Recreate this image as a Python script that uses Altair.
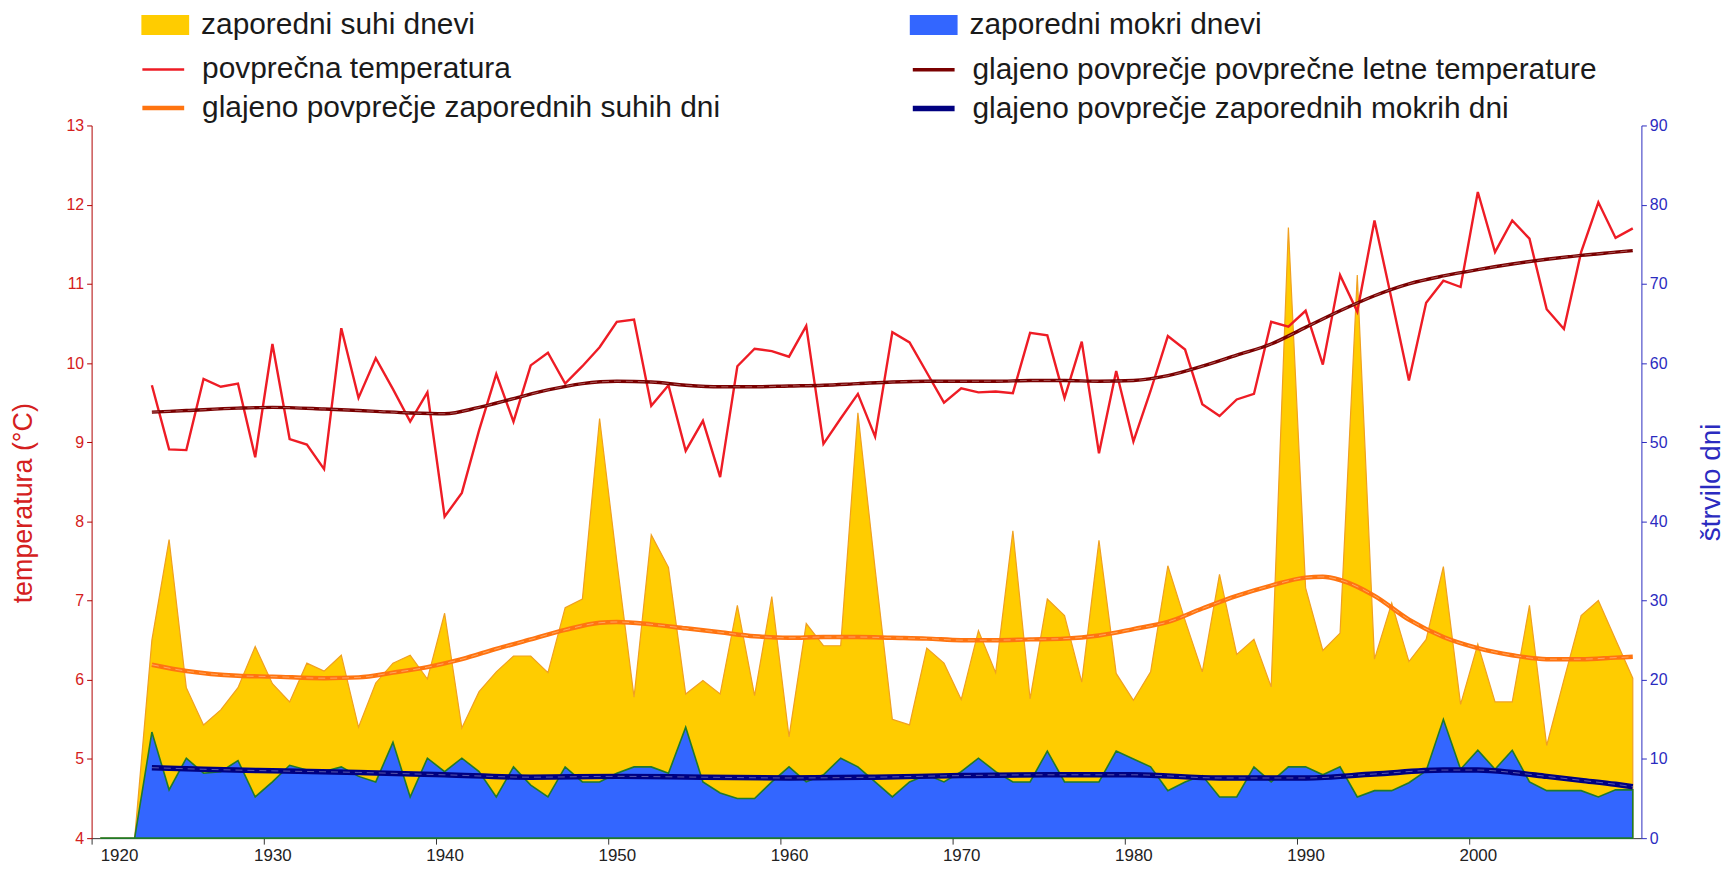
import altair as alt
import pandas as pd

# ---------------- data ----------------
years = list(range(1920, 2010))

temperature = [None, None, None,
    9.72, 8.91, 8.90, 9.80, 9.70, 9.74, 8.81, 10.24, 9.04, 8.97,      # 1923-1932
    8.66, 10.44, 9.56, 10.06, 9.67, 9.26, 9.63, 8.06, 8.36, 9.15,     # 1933-1942
    9.86, 9.26, 9.97, 10.13, 9.74, 9.96, 10.20, 10.52, 10.55, 9.46,   # 1943-1952
    9.72, 8.89, 9.27, 8.56, 9.96, 10.18, 10.15, 10.08, 10.47, 8.98,   # 1953-1962
    9.30, 9.61, 9.07, 10.39, 10.26, 9.88, 9.50, 9.68, 9.63, 9.64,     # 1963-1972
    9.62, 10.38, 10.35, 9.56, 10.27, 8.86, 9.90, 9.01, 9.65, 10.34,   # 1973-1982
    10.17, 9.48, 9.33, 9.54, 9.61, 10.52, 10.46, 10.66, 9.98, 11.11,  # 1983-1992
    10.65, 11.80, 10.80, 9.78, 10.76, 11.04, 10.96, 12.16, 11.40, 11.80,  # 1993-2002
    11.57, 10.68, 10.43, 11.40, 12.03, 11.58, 11.70]                  # 2003-2009

dry_days = [0, 0, 0, 25.0, 37.7, 19.0, 14.3, 16.2, 19.0, 24.2,       # 1920-1929
    19.5, 17.2, 22.1, 21.1, 23.1, 14.0, 19.6, 22.1, 23.1, 20.1,       # 1930-1939
    28.4, 13.9, 18.5, 21.0, 23.0, 23.0, 20.9, 29.1, 30.2, 53.0,       # 1940-1949
    35.0, 17.8, 38.3, 34.2, 18.2, 19.9, 18.2, 29.4, 18.0, 30.5,       # 1950-1959
    12.8, 27.1, 24.3, 24.3, 53.7, 34.0, 15.0, 14.3, 24.0, 22.1,       # 1960-1969
    17.5, 26.2, 20.9, 38.8, 17.6, 30.2, 28.1, 19.7, 37.6, 20.8,       # 1970-1979
    17.4, 21.0, 34.4, 27.5, 21.0, 33.3, 23.2, 25.1, 19.1, 77.1,       # 1980-1989
    31.6, 23.7, 25.9, 71.1, 22.6, 29.7, 22.3, 25.1, 34.3, 16.9,       # 1990-1999
    24.5, 17.2, 17.2, 29.4, 11.7, 20.0, 28.1, 30.0, 25.1, 20.2]       # 2000-2009

wet_days = [0, 0, 0, 13.4, 6.1, 10.1, 8.2, 8.4, 9.8, 5.2,            # 1920-1929
    7.1, 9.2, 8.6, 8.4, 9.0, 7.8, 7.1, 12.1, 5.2, 10.1,               # 1930-1939
    8.4, 10.1, 8.4, 5.2, 9.0, 6.7, 5.2, 9.0, 7.1, 7.1,                # 1940-1949
    8.2, 9.0, 9.0, 8.2, 14.0, 7.1, 5.7, 5.0, 5.0, 7.1,                # 1950-1959
    9.0, 7.1, 8.0, 10.1, 9.0, 7.1, 5.2, 7.1, 8.0, 7.1,                # 1960-1969
    8.4, 10.1, 8.4, 7.1, 7.1, 11.0, 7.1, 7.1, 7.1, 11.0,              # 1970-1979
    10.0, 9.0, 6.0, 7.1, 7.9, 5.2, 5.2, 9.0, 7.1, 9.0,                # 1980-1989
    9.0, 8.0, 9.0, 5.2, 6.0, 6.0, 7.0, 8.5, 15.0, 8.7,                # 1990-1999
    11.1, 8.7, 11.1, 7.1, 6.0, 6.0, 6.0, 5.2, 6.1, 6.1]               # 2000-2009

smooth_temp_years = [1923, 1925, 1928, 1930, 1933, 1936, 1938, 1940, 1942, 1944,
                     1946, 1948, 1950, 1952, 1954, 1956, 1958, 1960, 1962, 1964,
                     1966, 1968, 1970, 1972, 1974, 1976, 1978, 1980, 1982, 1984,
                     1986, 1988, 1990, 1992, 1994, 1996, 1998, 2000, 2002, 2004,
                     2006, 2008, 2009]
smooth_temp = [9.38, 9.40, 9.43, 9.44, 9.42, 9.39, 9.37, 9.36, 9.44, 9.55,
               9.66, 9.74, 9.77, 9.76, 9.72, 9.70, 9.70, 9.71, 9.72, 9.74,
               9.76, 9.77, 9.77, 9.77, 9.78, 9.78, 9.77, 9.78, 9.84, 9.96,
               10.10, 10.24, 10.45, 10.66, 10.85, 11.00, 11.10, 11.18, 11.25, 11.31,
               11.36, 11.40, 11.42]

smooth_dry_years = [1923, 1925, 1928, 1930, 1933, 1935, 1937, 1939, 1941, 1943,
                    1945, 1947, 1949, 1950, 1952, 1954, 1956, 1958, 1960, 1962,
                    1964, 1966, 1968, 1970, 1972, 1974, 1976, 1978, 1980, 1982,
                    1984, 1986, 1988, 1990, 1991, 1992, 1994, 1996, 1998, 2000,
                    2002, 2004, 2006, 2008, 2009]
smooth_dry = [21.9, 21.1, 20.5, 20.4, 20.2, 20.3, 20.9, 21.6, 22.6, 23.9,
              25.1, 26.3, 27.2, 27.3, 27.0, 26.5, 26.0, 25.5, 25.3, 25.4,
              25.4, 25.3, 25.2, 25.0, 25.0, 25.1, 25.2, 25.6, 26.4, 27.3,
              29.0, 30.6, 31.9, 32.9, 33.0, 32.6, 30.6, 27.6, 25.4, 24.0,
              23.1, 22.6, 22.6, 22.8, 22.9]

smooth_wet_years = [1923, 1926, 1930, 1935, 1940, 1945, 1950, 1955, 1960, 1965,
                    1970, 1975, 1980, 1985, 1990, 1994, 1998, 2000, 2002, 2004,
                    2006, 2008, 2009]
smooth_wet = [8.9, 8.7, 8.5, 8.3, 8.0, 7.7, 7.8, 7.7, 7.6, 7.7,
              7.9, 8.0, 8.0, 7.6, 7.6, 8.1, 8.6, 8.6, 8.3, 7.8,
              7.3, 6.8, 6.5]

N_DRY = "zaporedni suhi dnevi"
N_WET = "zaporedni mokri dnevi"
N_T = "povprečna temperatura"
N_ST = "glajeno povprečje povprečne letne temperature"
N_SD = "glajeno povprečje zaporednih suhih dni"
N_SW = "glajeno povprečje zaporednih mokrih dni"

# ---------------- styling ----------------
FONT = "Liberation Sans"
C_DRY, C_WET = "#FFCC00", "#3366FF"
C_DRY_LINE, C_WET_LINE = "#F0A020", "#1F7A2A"
C_T, C_ST, C_SD, C_SW = "#EE1C25", "#7A0000", "#FF7410", "#000080"
C_LEFT, C_RIGHT = "#D42020", "#2B2BC0"

PLOT_W, PLOT_H = 1557, 716
LEG_F = 30
HALF_YEAR_PX = PLOT_W / 90 / 2

df_dry = pd.DataFrame({"year": years, "days": dry_days, "name": N_DRY})
df_wet = pd.DataFrame({"year": years, "days": wet_days, "name": N_WET})
df_t = pd.DataFrame({"year": years, "temp": temperature, "name": N_T}).dropna()
df_st = pd.DataFrame({"year": smooth_temp_years, "temp": smooth_temp, "name": N_ST})
df_sd = pd.DataFrame({"year": smooth_dry_years, "days": smooth_dry, "name": N_SD})
df_sw = pd.DataFrame({"year": smooth_wet_years, "days": smooth_wet, "name": N_SW})

x_enc = alt.X("xm:Q",
              scale=alt.Scale(domain=[1920, 2010], nice=False, zero=False),
              axis=alt.Axis(values=list(range(1920, 2001, 10)), format="d", title=None,
                            grid=False, labelFont=FONT, labelFontSize=17, labelColor="#222",
                            labelOffset=HALF_YEAR_PX,
                            domainColor="#333", tickColor="#333", tickSize=6, labelPadding=3))

y_days = alt.Y("days:Q",
               scale=alt.Scale(domain=[0, 90], nice=False, zero=True),
               axis=alt.Axis(orient="right", values=list(range(0, 91, 10)), title="štrvilo dni",
                             grid=False, labelFont=FONT, labelFontSize=16, labelColor=C_RIGHT,
                             domainColor=C_RIGHT, tickColor=C_RIGHT, tickSize=5, labelPadding=3,
                             titleFont=FONT, titleFontSize=28, titleFontWeight="normal",
                             titleColor=C_RIGHT, titleAngle=270, titleX=70, titleY=358,
                             titleAlign="center", titleBaseline="middle"))

y_temp = alt.Y("temp:Q",
               scale=alt.Scale(domain=[4, 13], nice=False, zero=False),
               axis=alt.Axis(orient="left", values=list(range(4, 14)), title="temperatura (°C)",
                             grid=False, labelFont=FONT, labelFontSize=16, labelColor=C_LEFT,
                             domainColor="#B00000", tickColor="#B00000", tickSize=5, labelPadding=3,
                             titleFont=FONT, titleFontSize=27, titleFontWeight="normal",
                             titleColor=C_LEFT, titleAngle=270, titleX=-68, titleY=379,
                             titleAlign="center", titleBaseline="middle"))

fill_scale = alt.Scale(domain=[N_DRY, N_WET], range=[C_DRY, C_WET])
fill_legend = alt.Legend(title=None, orient="none", legendX=50, legendY=-125,
                         direction="horizontal", columns=2, columnPadding=436,
                         symbolType="M-1,-0.42L1,-0.42L1,0.42L-1,0.42Z", symbolSize=2304,
                         symbolStrokeWidth=0, symbolOpacity=1, labelOffset=12,
                         labelFont=FONT, labelFontSize=LEG_F, labelColor="#1a1a1a",
                         labelLimit=0, padding=0)

stroke_domain = [N_T, N_ST, N_SD, N_SW]
stroke_scale = alt.Scale(domain=stroke_domain, range=[C_T, C_ST, C_SD, C_SW])
sw_scale = alt.Scale(domain=stroke_domain, range=[2.4, 5.5, 5.5, 5.5])
stroke_legend = alt.Legend(title=None, orient="none", legendX=48, legendY=-79,
                           direction="horizontal", columns=2, columnPadding=182, rowPadding=0,
                           symbolType="stroke", symbolSize=1764, labelOffset=15,
                           labelFont=FONT, labelFontSize=LEG_F, labelColor="#1a1a1a",
                           labelLimit=0, padding=0)

stroke_enc = alt.Stroke("name:N", scale=stroke_scale, legend=stroke_legend)
sw_enc = alt.StrokeWidth("name:N", scale=sw_scale, legend=stroke_legend)


def base(df):
    return alt.Chart(df).transform_calculate(xm="datum.year + 0.5")


area_dry = base(df_dry).mark_area(opacity=1, stroke=C_DRY_LINE, strokeWidth=1.2).encode(
    x=x_enc, y=y_days, fill=alt.Fill("name:N", scale=fill_scale, legend=fill_legend))
area_wet = base(df_wet).mark_area(opacity=1, stroke=C_WET_LINE, strokeWidth=1.6).encode(
    x=x_enc, y=y_days, fill=alt.Fill("name:N", scale=fill_scale, legend=fill_legend))
line_sd = base(df_sd).mark_line(interpolate="monotone").encode(
    x=x_enc, y=y_days, stroke=stroke_enc, strokeWidth=sw_enc)
line_sw = base(df_sw).mark_line(interpolate="monotone").encode(
    x=x_enc, y=y_days, stroke=stroke_enc, strokeWidth=sw_enc)
dash_sd = base(df_sd).mark_line(interpolate="monotone", color="white", strokeWidth=1,
                                strokeDash=[7, 5], opacity=0.35).encode(x=x_enc, y=y_days)
dash_sw = base(df_sw).mark_line(interpolate="monotone", color="white", strokeWidth=1,
                                strokeDash=[7, 5], opacity=0.35).encode(x=x_enc, y=y_days)

line_t = base(df_t).mark_line().encode(
    x=x_enc, y=y_temp, stroke=stroke_enc, strokeWidth=sw_enc)
line_st = base(df_st).mark_line(interpolate="monotone").encode(
    x=x_enc, y=y_temp, stroke=stroke_enc, strokeWidth=sw_enc)
dash_st = base(df_st).mark_line(interpolate="monotone", color="white", strokeWidth=1,
                                strokeDash=[7, 5], opacity=0.35).encode(x=x_enc, y=y_temp)

days_layer = alt.layer(area_dry, area_wet, line_sd, dash_sd, line_sw, dash_sw)
temp_layer = alt.layer(line_t, line_st, dash_st)

chart = alt.layer(days_layer, temp_layer).resolve_scale(y="independent").properties(
    width=PLOT_W, height=PLOT_H,
    autosize=alt.AutoSizeParams(type="none"),
    padding={"left": 84, "top": 116, "right": 86, "bottom": 34},
    background="white",
).configure_view(stroke=None)

chart.save("out.html", embed_options={"renderer": "svg", "actions": False})
